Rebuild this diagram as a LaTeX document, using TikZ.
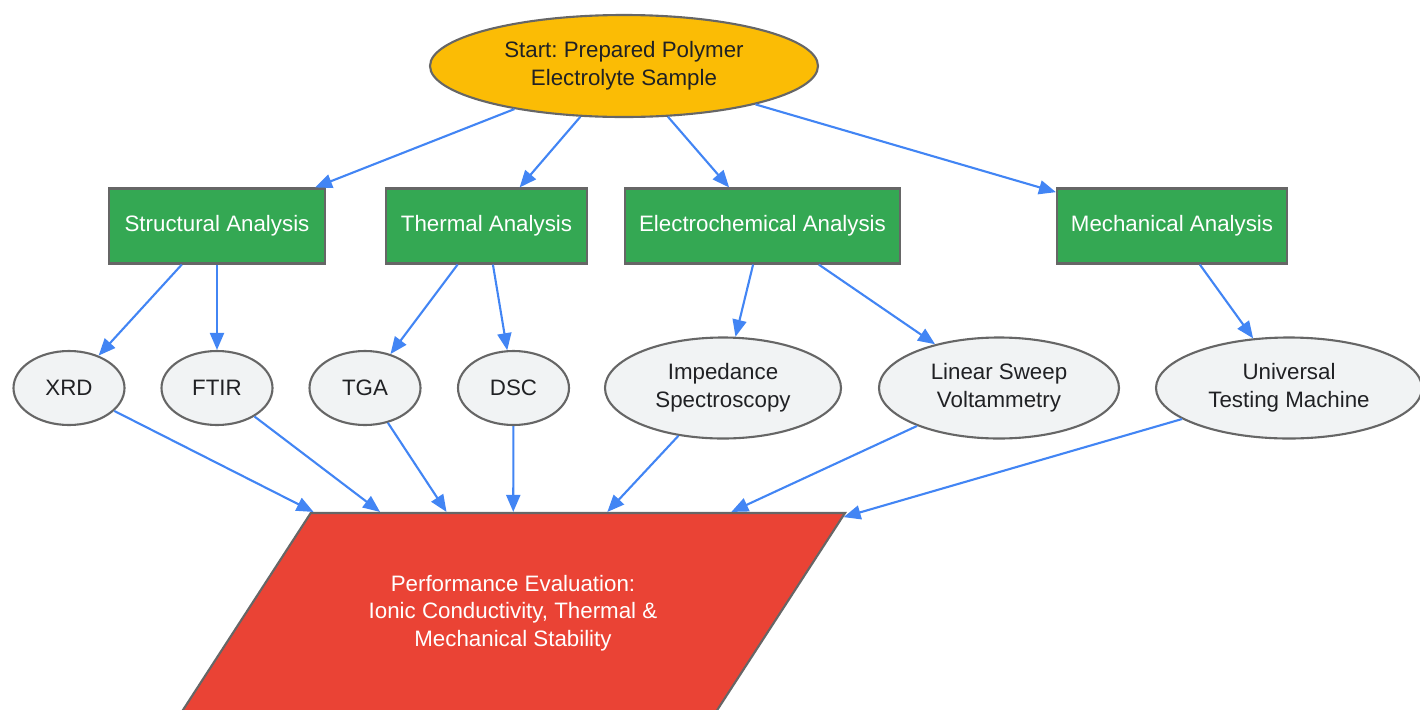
\documentclass[tikz,border=0pt]{standalone}
\usepackage{fontspec}
\setsansfont{Liberation Sans}
\usepackage{tikz}
\usetikzlibrary{shapes.geometric, arrows.meta, positioning}
\usepackage{xcolor}
\definecolor{startyellow}{RGB}{251, 188, 5}
\definecolor{stepgreen}{RGB}{52, 168, 83}
\definecolor{evalred}{RGB}{234, 67, 53}
\definecolor{methodgray}{RGB}{241, 243, 244}
\definecolor{bordergray}{RGB}{102, 102, 102}
\definecolor{arrowblue}{RGB}{66, 133, 244}
\definecolor{textdark}{RGB}{32, 33, 36}
\frenchspacing
\tikzset{
    base font/.style={
        font=\sffamily\fontsize{6.35}{7.9}\selectfont
    },
    start node/.style={
        ellipse,
        draw=bordergray,
        line width=0.6pt,
        fill=startyellow,
        text=textdark,
        inner sep=0pt,
        minimum width=3.88cm,
        minimum height=1.02cm,
        align=center,
        base font
    },
    analysis box/.style={
        rectangle,
        draw=bordergray,
        line width=0.6pt,
        fill=stepgreen,
        text=white,
        minimum height=0.75cm,
        align=center,
        base font
    },
    method node/.style={
        ellipse,
        draw=bordergray,
        line width=0.6pt,
        fill=methodgray,
        text=textdark,
        inner sep=0pt,
        minimum width=1.11cm,
        minimum height=0.74cm,
        align=center,
        base font
    },
    wide method/.style={
        method node,
        minimum height=1.01cm
    },
    result node/.style={
        trapezium,
        trapezium left angle=56,
        trapezium right angle=124,
        trapezium stretches body=true,
        draw=bordergray,
        line width=0.6pt,
        fill=evalred,
        text=white,
        inner ysep=0.58cm,
        minimum width=6.64cm,
        minimum height=2.0cm,
        align=center,
        base font
    },
    arrow/.style={
        -{Triangle[length=0.17cm, width=0.14cm]},
        line width=0.6pt,
        draw=arrowblue
    }
}

\begin{document}
\begin{tikzpicture}

\useasboundingbox (0, 0) rectangle (14.2, 7.09);
\clip (0, 0) rectangle (14.2, 7.09);

% Start
\node[start node] (start) at (6.24, 6.43) {
    Start: Prepared Polymer\\Electrolyte Sample
};

% === ANALYSIS GROUPS ===
\node[analysis box, minimum width=2.16cm] (struct) at (2.17, 4.83) {Structural Analysis};
\node[analysis box, minimum width=2.01cm] (thermal) at (4.865, 4.83) {Thermal Analysis};
\node[analysis box, minimum width=2.75cm] (electro) at (7.625, 4.83) {Electrochemical Analysis};
\node[analysis box, minimum width=2.30cm] (mech) at (11.72, 4.83) {Mechanical Analysis};

% === METHODS ===
\node[method node] (xrd) at (0.69, 3.21) {XRD};
\node[method node] (ftir) at (2.17, 3.21) {FTIR};
\node[method node] (tga) at (3.65, 3.21) {TGA};
\node[method node] (dsc) at (5.135, 3.21) {DSC};
\node[wide method, minimum width=2.36cm] (eis) at (7.23, 3.21) {
    Impedance\\Spectroscopy
};
\node[wide method, minimum width=2.40cm] (lsv) at (9.99, 3.21) {
    Linear Sweep\\Voltammetry
};
\node[wide method, minimum width=2.66cm] (utm) at (12.89, 3.21) {
    Universal\\Testing Machine
};

% Evaluation
\node[result node] (perf) at (5.13, 0.96) {
    Performance Evaluation:\\
    Ionic Conductivity, Thermal \&\\
    Mechanical Stability
};

% === CONNECTIONS ===
\foreach \from/\to in {start/struct, start/thermal, start/electro, start/mech,
                       struct/xrd, struct/ftir, thermal/tga, thermal/dsc,
                       electro/eis, electro/lsv, mech/utm,
                       xrd/perf, ftir/perf, tga/perf, dsc/perf,
                       eis/perf, lsv/perf, utm/perf} {
    \draw[arrow] (\from) -- (\to);
}

\end{tikzpicture}
\end{document}
